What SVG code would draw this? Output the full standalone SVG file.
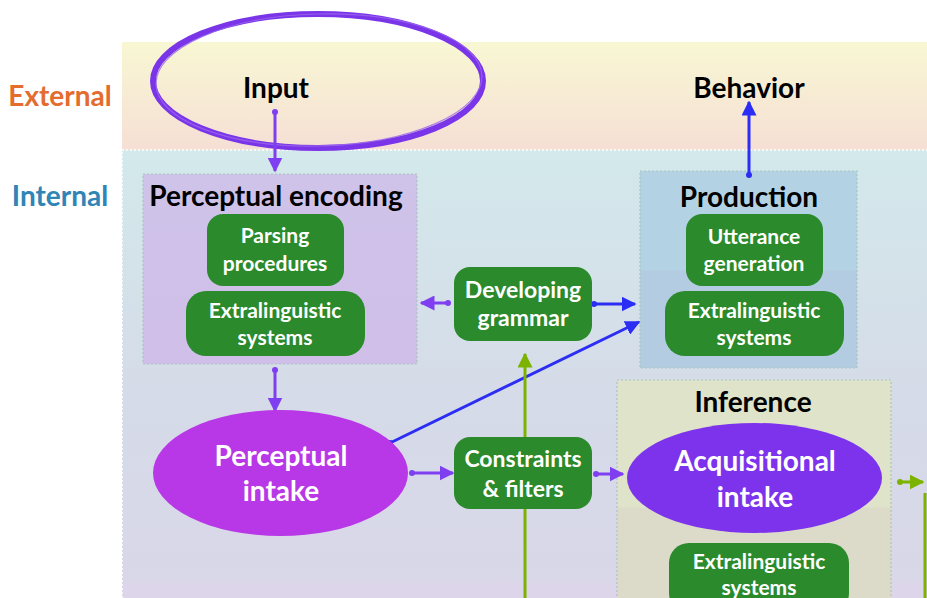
<svg xmlns="http://www.w3.org/2000/svg" width="927" height="598" viewBox="0 0 927 598">
<defs>
<linearGradient id="gExt" x1="0" y1="0" x2="0" y2="1"><stop offset="0" stop-color="#f8f7d3"/><stop offset="1" stop-color="#f6dfd5"/></linearGradient>
<linearGradient id="gInt" x1="0" y1="0" x2="0" y2="1"><stop offset="0" stop-color="#d3e9eb"/><stop offset="0.55" stop-color="#d5dbe8"/><stop offset="0.965" stop-color="#d9d7e8"/><stop offset="0.966" stop-color="#ddd5ea"/><stop offset="1" stop-color="#ddd5ea"/></linearGradient>
<linearGradient id="gPE" x1="0" y1="0" x2="0" y2="1"><stop offset="0" stop-color="#cfc3e9"/><stop offset="1" stop-color="#d0bfe9"/></linearGradient>
<linearGradient id="gProd" x1="0" y1="0" x2="0" y2="1"><stop offset="0" stop-color="#b3d3e4"/><stop offset="0.5" stop-color="#b3d3e4"/><stop offset="0.51" stop-color="#b4cce2"/><stop offset="1" stop-color="#b4cce2"/></linearGradient>
<linearGradient id="gInf" x1="0" y1="0" x2="0" y2="1"><stop offset="0" stop-color="#dfe3c9"/><stop offset="0.55" stop-color="#dfe3c9"/><stop offset="0.56" stop-color="#dcdbc9"/><stop offset="1" stop-color="#dcdbc9"/></linearGradient>
<marker id="aP" viewBox="0 0 10 10" refX="9" refY="5" markerWidth="5" markerHeight="5" orient="auto" markerUnits="strokeWidth"><path d="M0,0 L10,5 L0,10 z" fill="#7f3ff0"/></marker>
<marker id="aB" viewBox="0 0 10 10" refX="9" refY="5" markerWidth="5" markerHeight="5" orient="auto" markerUnits="strokeWidth"><path d="M0,0 L10,5 L0,10 z" fill="#2b2df5"/></marker>
<marker id="aG" viewBox="0 0 10 10" refX="9" refY="5" markerWidth="5" markerHeight="5" orient="auto" markerUnits="strokeWidth"><path d="M0,0 L10,5 L0,10 z" fill="#7bb300"/></marker>
<marker id="dP" viewBox="0 0 10 10" refX="5" refY="5" markerWidth="2" markerHeight="2" markerUnits="strokeWidth"><circle cx="5" cy="5" r="5" fill="#7f3ff0"/></marker>
<marker id="dB" viewBox="0 0 10 10" refX="5" refY="5" markerWidth="2" markerHeight="2" markerUnits="strokeWidth"><circle cx="5" cy="5" r="5" fill="#2b2df5"/></marker>
<marker id="dG" viewBox="0 0 10 10" refX="5" refY="5" markerWidth="2" markerHeight="2" markerUnits="strokeWidth"><circle cx="5" cy="5" r="5" fill="#7bb300"/></marker>
</defs>
<style>
text{font-family:Lato,"Open Sans","Liberation Sans",sans-serif;font-weight:bold;text-anchor:middle}
.lbl{fill:#000;font-size:28px}
.gt{fill:#fff;font-size:21px}
.gl{fill:#fff;font-size:23px}
.et{fill:#fff;font-size:28px}
.gbox{fill:#2b8a2b}
.grp{stroke:#a9c6bb;stroke-width:1.2;stroke-dasharray:2 2}
.cp{stroke:#7f3ff0;stroke-width:3;fill:none}
.cb{stroke:#2b2df5;stroke-width:3;fill:none}
.cg{stroke:#7bb300;stroke-width:3;fill:none}
</style>
<rect width="927" height="598" fill="#fff"/>
<g id="bands">
<rect x="122" y="42" width="805" height="108" fill="url(#gExt)"/>
<rect x="122" y="150" width="805" height="448" fill="url(#gInt)"/>
<path d="M122,598 L122,150 L927,150" fill="none" stroke="#fff" stroke-width="1.5" stroke-dasharray="2 2"/>
<text x="60" y="106" style="fill:#e46c2e;font-size:28px">External</text>
<text x="60" y="206" style="fill:#2f85b5;font-size:28px">Internal</text>
</g>
<g id="input">
<ellipse cx="318" cy="81" rx="165" ry="67" fill="none" stroke="#7b35e8" stroke-width="6"/>
<ellipse cx="319" cy="80" rx="163" ry="66" fill="none" stroke="#9a66ee" stroke-width="1.2" opacity="0.8" transform="rotate(-1.5 318 81)"/>
<text x="276" y="98" class="lbl">Input</text>
</g>
<g id="behavior">
<text x="749" y="98" class="lbl">Behavior</text>
</g>
<g id="perceptual-encoding">
<rect x="143" y="174" width="274" height="190" fill="url(#gPE)" class="grp"/>
<text x="276" y="206" class="lbl">Perceptual encoding</text>
<rect x="207" y="214" width="137" height="72" rx="16" class="gbox"/>
<text x="275" y="243" class="gt">Parsing</text>
<text x="275" y="271" class="gt">procedures</text>
<rect x="186" y="291" width="179" height="65" rx="20" class="gbox"/>
<text x="275" y="318" class="gt">Extralinguistic</text>
<text x="275" y="345" class="gt">systems</text>
</g>
<g id="production">
<rect x="640" y="171" width="217" height="197" fill="url(#gProd)" class="grp"/>
<text x="749" y="207" class="lbl">Production</text>
<rect x="686" y="214" width="137" height="72" rx="16" class="gbox"/>
<text x="754" y="244" class="gt">Utterance</text>
<text x="754" y="271" class="gt">generation</text>
<rect x="665" y="291" width="179" height="65" rx="20" class="gbox"/>
<text x="754" y="318" class="gt">Extralinguistic</text>
<text x="754" y="345" class="gt">systems</text>
</g>
<g id="inference">
<rect x="617" y="380" width="274" height="230" fill="url(#gInf)" class="grp"/>
<text x="753" y="412" class="lbl">Inference</text>
</g>
<g id="connectors">
<line x1="275" y1="112" x2="275" y2="171" class="cp" marker-start="url(#dP)" marker-end="url(#aP)"/>
<line x1="275" y1="370" x2="275" y2="411" class="cp" marker-start="url(#dP)" marker-end="url(#aP)"/>
<line x1="412" y1="473" x2="453" y2="473" class="cp" marker-start="url(#dP)" marker-end="url(#aP)"/>
<line x1="596" y1="474" x2="623" y2="474" class="cp" marker-start="url(#dP)" marker-end="url(#aP)"/>
<line x1="448" y1="303" x2="421" y2="303" class="cp" marker-start="url(#dP)" marker-end="url(#aP)"/>
<line x1="594" y1="304" x2="635" y2="304" class="cb" marker-start="url(#dB)" marker-end="url(#aB)"/>
<line x1="390" y1="443" x2="639" y2="322" class="cb" marker-start="url(#dB)" marker-end="url(#aB)"/>
<line x1="749" y1="175" x2="749" y2="102" class="cb" marker-start="url(#dB)" marker-end="url(#aB)"/>
<line x1="525" y1="600" x2="525" y2="354" class="cg" marker-end="url(#aG)"/>
<line x1="900" y1="482" x2="923" y2="482" class="cg" marker-start="url(#dG)" marker-end="url(#aG)"/>
<line x1="925" y1="493" x2="925" y2="600" class="cg"/>
</g>
<g id="perceptual-intake">
<ellipse cx="280.5" cy="473" rx="127.5" ry="63" fill="#b837e6"/>
<text x="281" y="466" class="et">Perceptual</text>
<text x="281" y="501" class="et">intake</text>
</g>
<g id="developing-grammar">
<rect x="454" y="267" width="138" height="74" rx="16" class="gbox"/>
<text x="523" y="298" class="gl">Developing</text>
<text x="523" y="326" class="gl">grammar</text>
</g>
<g id="constraints">
<rect x="454" y="437" width="138" height="72" rx="16" class="gbox"/>
<text x="523" y="467" class="gl">Constraints</text>
<text x="523" y="497" class="gl">&amp; filters</text>
</g>
<g id="acquisitional-intake">
<ellipse cx="754.5" cy="478" rx="127.5" ry="55" fill="#7d33ec"/>
<text x="755" y="471" class="et">Acquisitional</text>
<text x="755" y="507" class="et">intake</text>
</g>
<g id="inference-extralinguistic">
<rect x="669" y="543" width="180" height="70" rx="20" class="gbox"/>
<text x="759" y="569" class="gt">Extralinguistic</text>
<text x="759" y="595" class="gt">systems</text>
</g>
</svg>
